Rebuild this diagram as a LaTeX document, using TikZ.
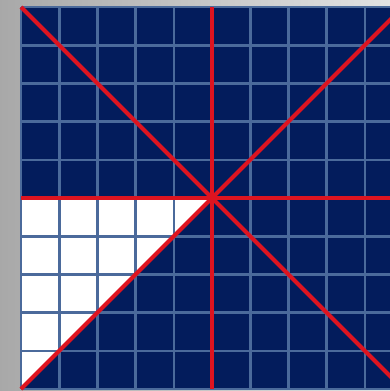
\documentclass[tikz,border=0pt]{standalone}
\usepackage{tikz}
\usetikzlibrary{calc}
\definecolor{cNavy}{RGB}{3,28,92}
\definecolor{cGrid}{RGB}{75,106,155}
\definecolor{cRed}{RGB}{222,20,32}
\tikzset{
	gridline/.style={draw=cGrid, line width=2.6pt},
	redline/.style ={draw=cRed, line width=4pt},
}
\begin{document}
\begin{tikzpicture}[x=1pt, y=-1pt]
	\useasboundingbox (0,0) rectangle (390,391);
	\clip (0,0) rectangle (390,391);
	% grey backdrop
	\shade[left color=gray!68, right color=gray!22] (0,0) rectangle (390,391);
	\coordinate (tl) at (21,7);
	\coordinate (br) at (403,389);
	\coordinate (bl) at (21,389);
	\coordinate (tr) at (403,7);
	\coordinate (c)  at (212,198);
	\fill[cNavy] (tl) rectangle (br);
	\fill[white] (tl |- c) -- (c) -- (bl) -- cycle;
	\foreach \i in {0,...,10} {
		\draw[gridline] ($(tl)+(38.2*\i,0)$) -- ++(0,382);
		\draw[gridline] ($(tl)+(0,38.2*\i)$) -- ++(382,0);
	}
	% red axes and diagonals
	\draw[redline] (tl) -- (br);
	\draw[redline] (bl) -- (tr);
	\draw[redline] (c |- tl) -- (c |- bl);
	\draw[redline] (tl |- c) -- (tr |- c);
\end{tikzpicture}
\end{document}
